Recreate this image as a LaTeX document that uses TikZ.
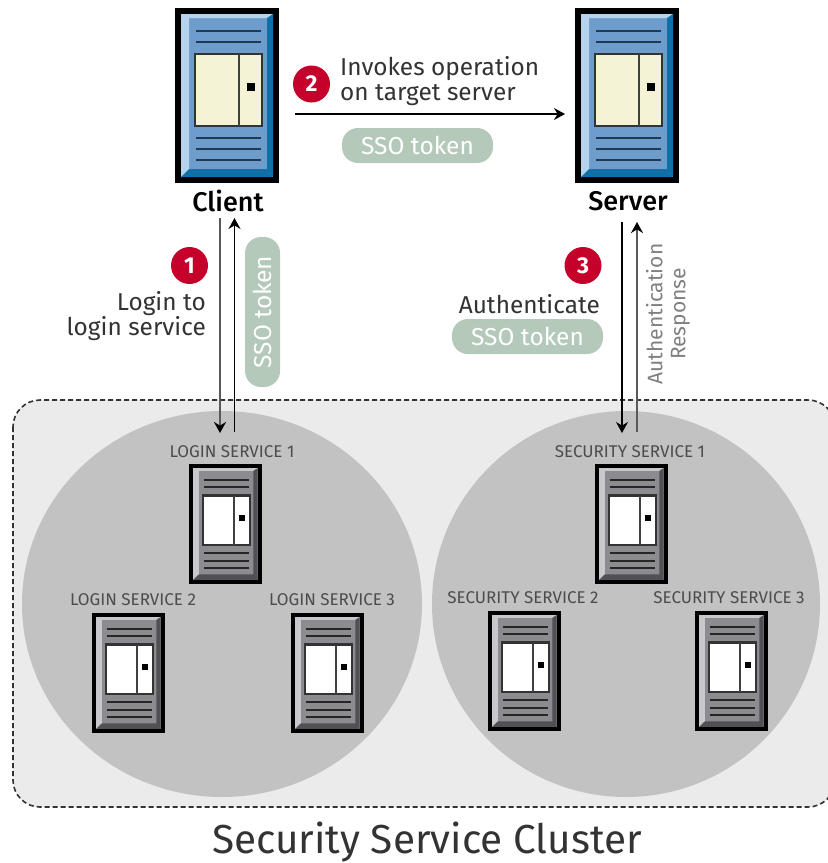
\documentclass[tikz,border=0pt]{standalone}
\usepackage{fontspec}
\setmainfont{Fira Sans}
\newfontfamily\medfont{Fira Sans Medium}
\usetikzlibrary{arrows.meta}
\definecolor{blueface}{HTML}{6E9CCB}
\definecolor{bluelight}{HTML}{B5D3EC}
\definecolor{bluedark}{HTML}{0F6FA6}
\definecolor{cream}{HTML}{F5F3D5}
\definecolor{lineblue}{HTML}{1F3A55}
\definecolor{pill}{HTML}{B4C9BA}
\definecolor{badge}{HTML}{C4002B}
\definecolor{clusterbg}{HTML}{EBEBEB}
\definecolor{disc}{HTML}{C2C2C2}
\definecolor{greyface}{HTML}{8C8C90}
\definecolor{greylight}{HTML}{C8C8CC}
\definecolor{greydark}{HTML}{505055}
\definecolor{txt}{HTML}{333333}
\tikzset{
  x=1pt,y=-1pt,
  pilltag/.style={fill=pill,text=white,rounded corners=16pt,minimum width=#1,minimum height=35pt,inner sep=0pt,font=\fontsize{24.5}{24.5}\selectfont},
  badgedot/.style={circle,fill=badge,text=white,minimum size=37pt,inner sep=0pt,font=\fontsize{23}{23}\selectfont\bfseries},
  biglabel/.style={text=txt,font=\fontsize{24.4}{25.5}\selectfont,inner sep=0pt},
  headlabel/.style={text=black,font=\fontsize{27}{27}\medfont,inner sep=0pt},
  smalllabel/.style={text=black!70,font=\fontsize{17}{17}\selectfont,inner sep=0pt},
  conn/.style={draw=black,line width=1.3pt,-{Stealth[length=11pt,width=12pt]}},
  conng/.style={draw=black!65,line width=2.2pt,-{Stealth[length=11pt,width=12pt,color=black]}},
}
% #1 x, #2 y, #3 scale x, #4 scale y, #5 face, #6 light, #7 dark, #8 panel, #9 line colour
\newcommand{\rack}[9]{%
\begin{scope}[shift={(#1,#2)},x=#3pt,y=-#4pt]
  \fill[black] (0,0) rectangle (104,175);
  \fill[#5] (6,6) rectangle (98,169);
  \fill[#6] (6,6) -- (98,6) -- (94,10) -- (14,10) -- (14,163) -- (6,169) -- cycle;
  \fill[#7] (98,6) -- (98,169) -- (6,169) -- (14,161) -- (92,161) -- (92,10) -- cycle;
  \foreach \yy in {23,34,130,141,152}{\draw[#9,line width=2pt] (21,\yy) -- (86,\yy);}
  \fill[#8,draw=black!80,line width=2.2pt] (20,46) rectangle (87,118);
  \draw[black!75,line width=2.2pt] (64,46) -- (64,118);
  \fill[black] (72,75) rectangle (80,83);
\end{scope}}
\newcommand{\bigrack}[2]{\rack{#1}{#2}{1}{1}{blueface}{bluelight}{bluedark}{cream}{lineblue}}
\newcommand{\smallrack}[2]{\rack{#1}{#2}{0.7}{0.686}{greyface}{greylight}{greydark}{white}{black!85}}
\begin{document}
\begin{tikzpicture}
\useasboundingbox (0,0) rectangle (828,863);
\fill[white] (0,0) rectangle (828,863);
% cluster
\begin{scope}
\clip (0,0) rectangle (828,863);
\draw[fill=clusterbg,draw=black!80,line width=1.6pt,dash pattern=on 5pt off 3pt,rounded corners=27pt] (13,400) -- (13,807) -- (835,807) -- (835,400) -- cycle;
\end{scope}
\fill[disc] (222,604) ellipse [x radius=200,y radius=193];
\fill[disc] (626,604) ellipse [x radius=194,y radius=193];
% racks
\bigrack{175}{8}
\bigrack{575}{8}
\smallrack{189}{464}
\smallrack{92}{613}
\smallrack{291}{613}
\smallrack{595}{464}
\smallrack{488}{611}
\smallrack{695}{611}
% labels
\node[headlabel] (client) at (228,201) {Client};
\node[headlabel] (server) at (628,201) {Server};
\node[smalllabel] (ls1) at (232,452) {LOGIN SERVICE 1};
\node[smalllabel] (ls2) at (133,600) {LOGIN SERVICE 2};
\node[smalllabel] (ls3) at (332,600) {LOGIN SERVICE 3};
\node[smalllabel] (ss1) at (630,452) {SECURITY SERVICE 1};
\node[smalllabel] (ss2) at (523,598) {SECURITY SERVICE 2};
\node[smalllabel] (ss3) at (729,598) {SECURITY SERVICE 3};
\node[badgedot] (b1) at (189.5,265.5) {1};
\node[badgedot] (b2) at (311.5,84) {2};
\node[badgedot] (b3) at (583,265.5) {3};
\node[biglabel,align=right,anchor=east] (l1) at (206,316) {Login to\\login service};
\node[biglabel,align=left,anchor=west] (l2) at (340,81) {Invokes operation\\on target server};
\node[biglabel,anchor=east] (l3) at (600,304) {Authenticate};
\node[pilltag=151pt] (t2) at (417.5,145.5) {SSO token};
\node[pilltag=151pt] (t3) at (527.5,336.5) {SSO token};
\node[pilltag=150pt,rotate=90] (t1) at (262.5,312) {SSO token};
\node[text=black!50,font=\fontsize{21}{23}\selectfont,align=center,rotate=90,inner sep=0pt] (resp) at (668,314) {Authentication\\Response};
\node[text=txt,font=\fontsize{40.5}{40.5}\selectfont,inner sep=0pt] (title) at (427,842) {Security Service Cluster};
% connectors
\coordinate (c1a) at (220,218); \coordinate (c1b) at (220,433);
\coordinate (c2a) at (234.5,432); \coordinate (c2b) at (234.5,218);
\coordinate (c3a) at (295,114); \coordinate (c3b) at (565,114);
\coordinate (c4a) at (622,222); \coordinate (c4b) at (622,433);
\coordinate (c5a) at (637,432); \coordinate (c5b) at (637,222);
\draw[conng] (c1a) -- (c1b);
\draw[conn] (c2a) -- (c2b);
\draw[conn] (c3a) -- (c3b);
\draw[conn] (c4a) -- (c4b);
\draw[conng] (c5a) -- (c5b);
\end{tikzpicture}
\end{document}
